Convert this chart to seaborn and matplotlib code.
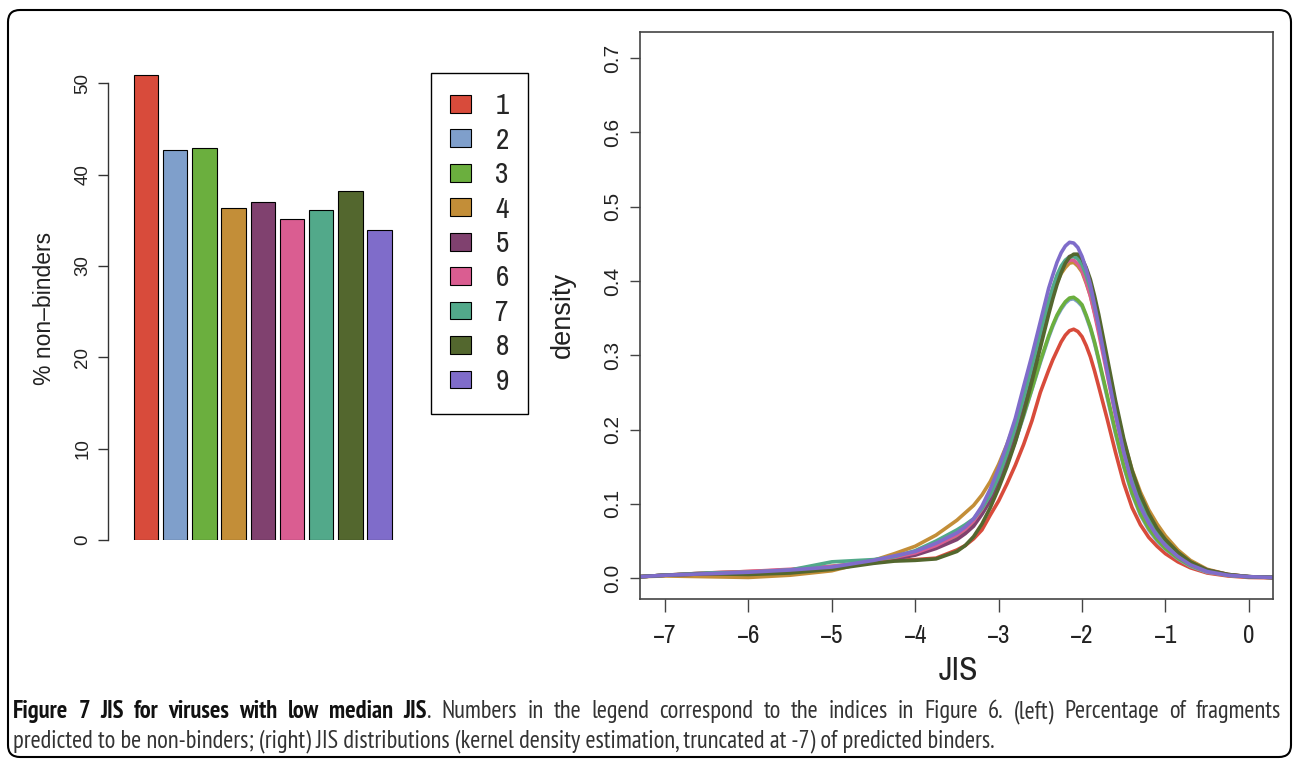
import matplotlib
matplotlib.use("Agg")
import matplotlib.pyplot as plt
import matplotlib.transforms as mtransforms
from matplotlib import font_manager
from matplotlib.patches import FancyBboxPatch
import pandas as pd
import seaborn as sns

# ---------------- data ----------------
CATEGORIES = ["1", "2", "3", "4", "5", "6", "7", "8", "9"]
NON_BINDERS = [50.9, 42.7, 42.9, 36.3, 37.0, 35.1, 36.1, 38.2, 33.9]
COLORS = ["#D84B3B", "#7F9FCB", "#6BAF3E", "#C38E38", "#80416F",
          "#DA5D91", "#52A98A", "#53672E", "#7F6CCA"]

JIS_GRID = [-7.3, -7.0, -6.5, -6.0, -5.5, -5.0, -4.5, -4.25, -4.0, -3.75, -3.5,
            -3.4, -3.3, -3.2, -3.1, -3.0, -2.9, -2.8, -2.7, -2.6, -2.5,
            -2.4, -2.35, -2.3, -2.25, -2.2, -2.15, -2.1, -2.05, -2.0, -1.95,
            -1.9, -1.85, -1.8, -1.7, -1.6, -1.5, -1.4, -1.3, -1.2, -1.1, -1.0,
            -0.85, -0.7, -0.5, -0.25, 0.0, 0.29]

DENSITY_1 = [0.002, 0.004, 0.007, 0.009, 0.011, 0.015, 0.021, 0.024, 0.025, 0.027, 0.038,
             0.044, 0.053, 0.065, 0.085, 0.104, 0.127, 0.152, 0.180, 0.212, 0.250,
             0.280, 0.294, 0.306, 0.318, 0.327, 0.333, 0.335, 0.332, 0.325, 0.313,
             0.298, 0.279, 0.258, 0.215, 0.170, 0.128, 0.095, 0.072, 0.055, 0.043, 0.033,
             0.022, 0.014, 0.007, 0.003, 0.001, 0.0005]
DENSITY_2 = [0.002, 0.004, 0.006, 0.008, 0.011, 0.015, 0.021, 0.026, 0.032, 0.042, 0.055,
             0.063, 0.073, 0.087, 0.104, 0.127, 0.154, 0.184, 0.218, 0.254, 0.290,
             0.324, 0.339, 0.352, 0.362, 0.370, 0.375, 0.376, 0.372, 0.366, 0.352,
             0.336, 0.316, 0.293, 0.244, 0.195, 0.150, 0.113, 0.085, 0.065, 0.050, 0.039,
             0.026, 0.016, 0.008, 0.004, 0.002, 0.001]
DENSITY_3 = [0.002, 0.004, 0.006, 0.008, 0.011, 0.016, 0.022, 0.027, 0.033, 0.043, 0.056,
             0.064, 0.074, 0.088, 0.105, 0.128, 0.155, 0.185, 0.220, 0.255, 0.292,
             0.326, 0.341, 0.354, 0.364, 0.372, 0.377, 0.378, 0.374, 0.368, 0.354,
             0.338, 0.318, 0.295, 0.247, 0.198, 0.152, 0.115, 0.087, 0.067, 0.052, 0.040,
             0.027, 0.017, 0.009, 0.004, 0.002, 0.001]
DENSITY_4 = [0.002, 0.003, 0.002, 0.001, 0.004, 0.010, 0.024, 0.033, 0.043, 0.058, 0.078,
             0.088, 0.098, 0.112, 0.130, 0.153, 0.180, 0.210, 0.245, 0.285, 0.325,
             0.365, 0.383, 0.398, 0.410, 0.418, 0.424, 0.425, 0.420, 0.412, 0.397,
             0.380, 0.358, 0.335, 0.283, 0.232, 0.185, 0.146, 0.116, 0.092, 0.073, 0.057,
             0.038, 0.024, 0.012, 0.005, 0.002, 0.001]
DENSITY_5 = [0.002, 0.004, 0.006, 0.007, 0.010, 0.015, 0.021, 0.026, 0.031, 0.040, 0.052,
             0.060, 0.070, 0.086, 0.105, 0.130, 0.160, 0.195, 0.235, 0.278, 0.322,
             0.365, 0.385, 0.402, 0.416, 0.427, 0.433, 0.434, 0.431, 0.425, 0.412,
             0.395, 0.373, 0.348, 0.292, 0.235, 0.183, 0.140, 0.108, 0.083, 0.064, 0.050,
             0.033, 0.021, 0.011, 0.005, 0.002, 0.001]
DENSITY_6 = [0.002, 0.004, 0.007, 0.009, 0.012, 0.016, 0.022, 0.028, 0.034, 0.044, 0.058,
             0.066, 0.077, 0.093, 0.113, 0.139, 0.170, 0.205, 0.245, 0.288, 0.332,
             0.373, 0.390, 0.405, 0.416, 0.424, 0.428, 0.428, 0.423, 0.414, 0.399,
             0.380, 0.356, 0.330, 0.275, 0.220, 0.170, 0.130, 0.099, 0.076, 0.059, 0.045,
             0.030, 0.019, 0.009, 0.004, 0.002, 0.001]
DENSITY_7 = [0.002, 0.004, 0.007, 0.008, 0.011, 0.022, 0.025, 0.029, 0.037, 0.050, 0.065,
             0.072, 0.080, 0.094, 0.112, 0.137, 0.168, 0.203, 0.243, 0.285, 0.330,
             0.372, 0.391, 0.408, 0.420, 0.428, 0.432, 0.433, 0.430, 0.422, 0.408,
             0.390, 0.366, 0.340, 0.285, 0.230, 0.178, 0.136, 0.104, 0.080, 0.062, 0.048,
             0.032, 0.020, 0.010, 0.004, 0.002, 0.001]
DENSITY_8 = [0.002, 0.004, 0.006, 0.005, 0.007, 0.012, 0.020, 0.023, 0.024, 0.026, 0.036,
             0.044, 0.056, 0.073, 0.095, 0.121, 0.150, 0.183, 0.222, 0.265, 0.310,
             0.355, 0.376, 0.395, 0.411, 0.424, 0.432, 0.436, 0.436, 0.430, 0.418,
             0.402, 0.380, 0.355, 0.298, 0.240, 0.188, 0.145, 0.112, 0.087, 0.067, 0.052,
             0.035, 0.022, 0.011, 0.005, 0.002, 0.001]
DENSITY_9 = [0.002, 0.004, 0.006, 0.008, 0.011, 0.015, 0.024, 0.030, 0.036, 0.047, 0.061,
             0.069, 0.080, 0.097, 0.120, 0.148, 0.180, 0.215, 0.258, 0.300, 0.345,
             0.390, 0.408, 0.425, 0.438, 0.447, 0.452, 0.451, 0.445, 0.433, 0.416,
             0.395, 0.368, 0.340, 0.280, 0.222, 0.170, 0.127, 0.096, 0.074, 0.057, 0.044,
             0.029, 0.018, 0.009, 0.004, 0.002, 0.001]

X_TICKS = [-7, -6, -5, -4, -3, -2, -1, 0]
Y_TICKS_R = [0.0, 0.1, 0.2, 0.3, 0.4, 0.5, 0.6, 0.7]
Y_TICKS_L = [0, 10, 20, 30, 40, 50]

CAPTION_BOLD = "Figure 7 JIS for viruses with low median JIS"
CAPTION_REST1 = (". Numbers in the legend correspond to the indices in Figure 6. "
                 "(left) Percentage of fragments")
CAPTION_LINE2 = ("predicted to be non-binders; (right) JIS distributions (kernel density "
                 "estimation, truncated at -7) of predicted binders.")

# ---------------- style ----------------
sns.set_style("white")
available = {f.name for f in font_manager.fontManager.ttflist}


def pick(prefs):
    for p in prefs:
        if p in available:
            return p
    return "DejaVu Sans"


REG = pick(["Liberation Sans", "Arimo", "DejaVu Sans"])
NARROW = pick(["Liberation Sans Narrow", "Archivo Narrow", "Roboto Condensed",
               "Liberation Sans"])
CAPF = pick(["PT Sans Narrow", "Fira Sans Condensed", "Encode Sans Condensed",
             "Roboto Condensed", "Liberation Sans"])
plt.rcParams["font.family"] = [REG, "DejaVu Sans"]
plt.rcParams["axes.unicode_minus"] = True

W, H = 1293, 759
fig = plt.figure(figsize=(W / 100, H / 100), dpi=100)
fig.patch.set_facecolor("white")


def fx(px):
    return px / W


def fy(py):
    return 1 - py / H


# ---------------- left: bar chart ----------------
axL = fig.add_axes([fx(108), fy(540), (400 - 108) / W, (540 - 65) / H])
sns.barplot(x=CATEGORIES, y=NON_BINDERS, hue=CATEGORIES, palette=COLORS,
            saturation=1, width=0.833, edgecolor="black", linewidth=0.8,
            legend=False, ax=axL)
axL.set_xlim(-1.30, 8.70)
axL.set_ylim(0, 52)
for s in ["top", "right", "bottom"]:
    axL.spines[s].set_visible(False)
axL.spines["left"].set_bounds(0, 50)
axL.spines["left"].set_color("#333333")
axL.spines["left"].set_linewidth(1.0)
axL.set_xticks([])
axL.set_yticks(Y_TICKS_L, labels=[str(v) for v in Y_TICKS_L],
               rotation=90, va="center")
axL.tick_params(axis="y", left=True, length=7, width=1, pad=5,
                labelsize=13.5, color="#333333", labelcolor="#222222")
axL.set_xlabel("")
axL.set_ylabel("")
axL.set_facecolor("none")

handles = [c.patches[0] for c in axL.containers]
leg = axL.legend(handles, CATEGORIES, loc="upper left",
                 bbox_to_anchor=(fx(431), fy(73)), bbox_transform=fig.transFigure,
                 borderaxespad=0, frameon=True, fancybox=False, framealpha=1,
                 edgecolor="black", prop={"family": NARROW, "size": 21},
                 handlelength=0.7, handleheight=0.56, labelspacing=0.255,
                 borderpad=0.66, handletextpad=0.85)
leg.get_frame().set_linewidth(1.0)

fig.text(fx(45), fy(308), "% non\u2013binders", rotation=90, ha="center",
         va="center", fontsize=16.5, family=REG, color="#222222")

# ---------------- right: density curves ----------------
series = [DENSITY_1, DENSITY_2, DENSITY_3, DENSITY_4, DENSITY_5,
          DENSITY_6, DENSITY_7, DENSITY_8, DENSITY_9]
frames = []
for name, dens in zip(CATEGORIES, series):
    frames.append(pd.DataFrame({"JIS": JIS_GRID, "density": dens, "series": name}))
df = pd.concat(frames, ignore_index=True)

axR = fig.add_axes([fx(640), fy(599), (1273 - 640) / W, (599 - 32) / H])
sns.lineplot(data=df, x="JIS", y="density", hue="series", hue_order=CATEGORIES,
             palette=COLORS, sort=False, estimator=None, linewidth=2.6,
             legend=False, ax=axR)
for ln in axR.lines:
    ln.set_solid_joinstyle("round")
    ln.set_solid_capstyle("round")
axR.set_xlim(-7.3, 0.29)
axR.set_ylim(-0.028, 0.735)
for s in axR.spines.values():
    s.set_visible(True)
    s.set_color("#444444")
    s.set_linewidth(1.2)
axR.set_xticks(X_TICKS, labels=[("\u2212%d" % -v) if v < 0 else str(v) for v in X_TICKS],
               family=NARROW, fontsize=18)
axR.set_yticks(Y_TICKS_R, labels=["%.1f" % v for v in Y_TICKS_R],
               rotation=90, va="center", fontsize=15)
axR.tick_params(axis="x", bottom=True, length=9, width=1, pad=9,
                color="#444444", labelcolor="#222222")
axR.tick_params(axis="y", left=True, length=7, width=1, pad=6,
                color="#444444", labelcolor="#222222")
axR.set_xlabel("")
axR.set_ylabel("")

fig.text(fx(563), fy(315), "density", rotation=90, ha="center", va="center",
         fontsize=19.5, family=REG, color="#222222")
fig.text(fx(958), fy(671), "JIS", ha="center", va="center",
         fontsize=24, family=NARROW, color="#222222")

# ---------------- caption (line 1 justified, line 2 natural width) ----------------
renderer = fig.canvas.get_renderer()
x0, target_right, line2_right = 13, 1281, 1000


def text_width(s, size, weight="normal"):
    t = fig.text(0, 0, s, fontsize=size, family=CAPF, weight=weight)
    w = t.get_window_extent(renderer).width
    t.remove()
    return w


probe = 14.0
cap_size = probe * (line2_right - x0) / text_width(CAPTION_LINE2, probe)

bold_words = CAPTION_BOLD.split(" ")
rest_words = CAPTION_REST1[1:].strip().split(" ")
groups = [[(w, "bold")] for w in bold_words[:-1]]
groups.append([(bold_words[-1], "bold"), (".", "normal")])
groups += [[(w, "normal")] for w in rest_words]

widths = []
for g in groups:
    widths.append(sum(text_width(s, cap_size, wt) for s, wt in g))
gap = ((target_right - x0) - sum(widths)) / (len(groups) - 1)

x = x0
for g, gw in zip(groups, widths):
    xx = x
    for s, wt in g:
        fig.text(fx(xx), fy(718), s, fontsize=cap_size, family=CAPF, weight=wt,
                 color="#111111" if wt == "bold" else "#333333", va="baseline")
        xx += text_width(s, cap_size, wt)
    x += gw + gap

fig.text(fx(x0), fy(747), CAPTION_LINE2, fontsize=cap_size, family=CAPF,
         color="#333333", va="baseline")

# ---------------- figure border ----------------
border = FancyBboxPatch((8, H - 757), 1283, 747,
                        boxstyle="round,pad=0,rounding_size=12",
                        transform=mtransforms.IdentityTransform(),
                        fill=False, linewidth=1.5, edgecolor="black")
fig.add_artist(border)

fig.savefig("out.png", dpi=100)
